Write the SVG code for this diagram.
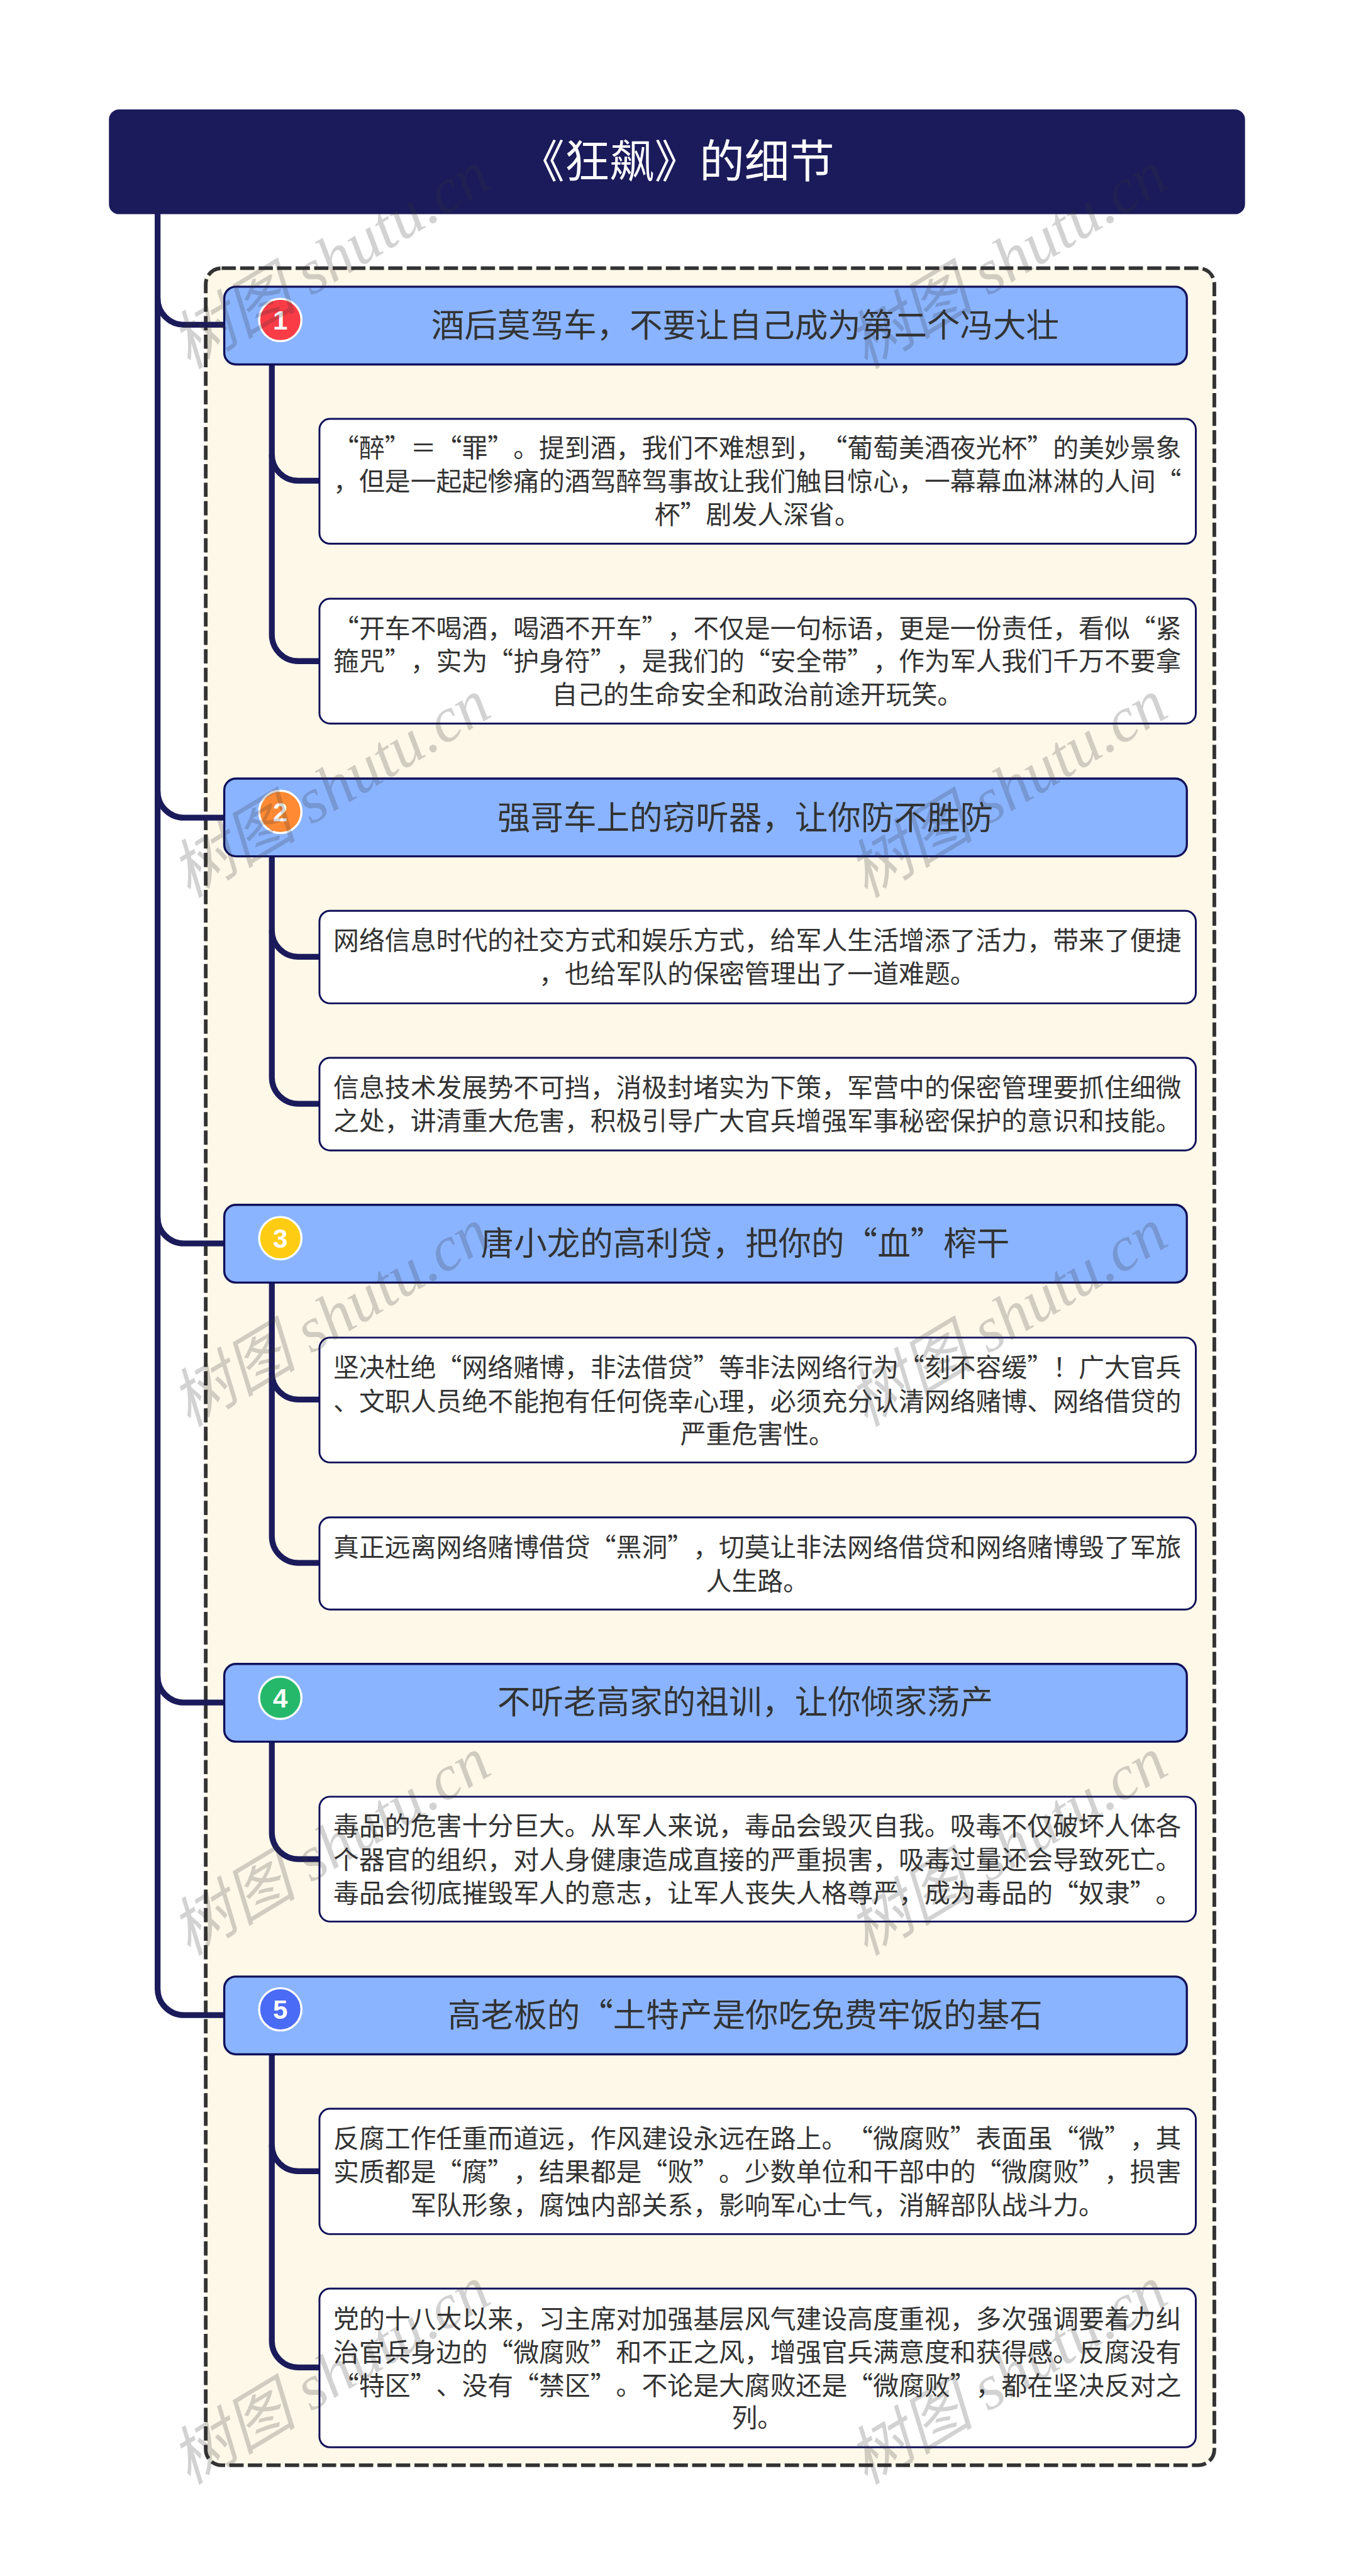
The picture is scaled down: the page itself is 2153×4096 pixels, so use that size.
<svg xmlns="http://www.w3.org/2000/svg" width="2153" height="4096" viewBox="0 0 2153 4096">
<style>
text{font-family:"Noto Sans CJK SC","Noto Sans",sans-serif;text-anchor:middle;text-spacing-trim:space-all;font-feature-settings:"chws" 0,"halt" 0,"palt" 0;font-kerning:none}
.root{fill:#1b1b5b;stroke:#1b1b5b;stroke-width:2}
.rt{font-size:85px;fill:#fff}
.br{fill:#8ab4ff;stroke:#10105a;stroke-width:4}
.bt{font-size:62.5px;fill:#333}
.ch{fill:#fff;stroke:#10105a;stroke-width:3.5}
.ct{font-size:48.6px;fill:#333}
.dot{stroke:#fff;stroke-width:4}
.num{font-family:"Liberation Sans",Arial,sans-serif;font-weight:bold;font-size:50px;fill:#fff}
.frame{fill:#fdf8e8;stroke:#333;stroke-width:7;stroke-dasharray:27 8}
.line{fill:none;stroke:#1b1b5b;stroke-width:11}
.wm{font-family:"Liberation Serif","Noto Sans CJK SC",serif;font-style:italic;font-size:120px;fill:#323232;fill-opacity:.22;text-anchor:start}
</style>
<rect width="2153" height="4096" fill="#fff"/>
<g transform="scale(0.841)">
<rect id="frame" class="frame" x="389" y="507" width="1907" height="4154" rx="30" ry="30"/>
<g id="connectors">
<path class="line" d="M298 404V3760A50 50 0 0 0 348 3810H424"/>
<path class="line" d="M298 564A50 50 0 0 0 348 614H424"/>
<path class="line" d="M298 1496A50 50 0 0 0 348 1546H424"/>
<path class="line" d="M298 2301A50 50 0 0 0 348 2351H424"/>
<path class="line" d="M298 3169A50 50 0 0 0 348 3219H424"/>
<path class="line" d="M514 688V1200A50 50 0 0 0 564 1250H605"/>
<path class="line" d="M514 859A50 50 0 0 0 564 909H605"/>
<path class="line" d="M514 1619V2037A50 50 0 0 0 564 2087H605"/>
<path class="line" d="M514 1759A50 50 0 0 0 564 1809H605"/>
<path class="line" d="M514 2425V2905A50 50 0 0 0 564 2955H605"/>
<path class="line" d="M514 2596A50 50 0 0 0 564 2646H605"/>
<path class="line" d="M514 3293V3465A50 50 0 0 0 564 3515H605"/>
<path class="line" d="M514 3884V4426A50 50 0 0 0 564 4476H605"/>
<path class="line" d="M514 4055A50 50 0 0 0 564 4105H605"/>
</g>
<g id="root"><rect class="root" x="207" y="208" width="2146" height="196" rx="18" ry="18"/><text class="rt" x="1280" y="335">《狂飙》的细节</text></g>
<g id="b1"><rect class="br" x="424" y="542" width="1820" height="147" rx="22" ry="22"/><circle class="dot" cx="530" cy="605" r="40" fill="#fa3c47"/><text class="num" x="530" y="623">1</text><text class="bt" x="1409" y="637">酒后莫驾车，不要让自己成为第二个冯大壮</text></g>
<g id="c11"><rect class="ch" x="604" y="792" width="1657" height="236" rx="20" ry="20"/><text class="ct" x="1432" y="865">“醉”＝“罪”。提到酒，我们不难想到，“葡萄美酒夜光杯”的美妙景象</text><text class="ct" x="1432" y="927">，但是一起起惨痛的酒驾醉驾事故让我们触目惊心，一幕幕血淋淋的人间“</text><text class="ct" x="1432" y="991">杯”剧发人深省。</text></g>
<g id="c12"><rect class="ch" x="604" y="1132" width="1657" height="236" rx="20" ry="20"/><text class="ct" x="1432" y="1206">“开车不喝酒，喝酒不开车”，不仅是一句标语，更是一份责任，看似“紧</text><text class="ct" x="1432" y="1267">箍咒”，实为“护身符”，是我们的“安全带”，作为军人我们千万不要拿</text><text class="ct" x="1432" y="1331">自己的生命安全和政治前途开玩笑。</text></g>
<g id="b2"><rect class="br" x="424" y="1472" width="1820" height="147" rx="22" ry="22"/><circle class="dot" cx="530" cy="1535" r="40" fill="#ff8a33"/><text class="num" x="530" y="1553">2</text><text class="bt" x="1409" y="1568">强哥车上的窃听器，让你防不胜防</text></g>
<g id="c21"><rect class="ch" x="604" y="1722" width="1657" height="175" rx="20" ry="20"/><text class="ct" x="1432" y="1796">网络信息时代的社交方式和娱乐方式，给军人生活增添了活力，带来了便捷</text><text class="ct" x="1432" y="1859">，也给军队的保密管理出了一道难题。</text></g>
<g id="c22"><rect class="ch" x="604" y="2000" width="1657" height="175" rx="20" ry="20"/><text class="ct" x="1432" y="2074">信息技术发展势不可挡，消极封堵实为下策，军营中的保密管理要抓住细微</text><text class="ct" x="1432" y="2137">之处，讲清重大危害，积极引导广大官兵增强军事秘密保护的意识和技能。</text></g>
<g id="b3"><rect class="br" x="424" y="2278" width="1820" height="147" rx="22" ry="22"/><circle class="dot" cx="530" cy="2341" r="40" fill="#ffcc14"/><text class="num" x="530" y="2359">3</text><text class="bt" x="1409" y="2373">唐小龙的高利贷，把你的“血”榨干</text></g>
<g id="c31"><rect class="ch" x="604" y="2529" width="1657" height="236" rx="20" ry="20"/><text class="ct" x="1432" y="2603">坚决杜绝“网络赌博，非法借贷”等非法网络行为“刻不容缓”！广大官兵</text><text class="ct" x="1432" y="2667">、文职人员绝不能抱有任何侥幸心理，必须充分认清网络赌博、网络借贷的</text><text class="ct" x="1432" y="2729">严重危害性。</text></g>
<g id="c32"><rect class="ch" x="604" y="2869" width="1657" height="174" rx="20" ry="20"/><text class="ct" x="1432" y="2943">真正远离网络赌博借贷“黑洞”，切莫让非法网络借贷和网络赌博毁了军旅</text><text class="ct" x="1432" y="3007">人生路。</text></g>
<g id="b4"><rect class="br" x="424" y="3146" width="1820" height="147" rx="22" ry="22"/><circle class="dot" cx="530" cy="3210" r="40" fill="#25b86b"/><text class="num" x="530" y="3228">4</text><text class="bt" x="1409" y="3240">不听老高家的祖训，让你倾家荡产</text></g>
<g id="c41"><rect class="ch" x="604" y="3397" width="1657" height="236" rx="20" ry="20"/><text class="ct" x="1432" y="3470">毒品的危害十分巨大。从军人来说，毒品会毁灭自我。吸毒不仅破坏人体各</text><text class="ct" x="1432" y="3534">个器官的组织，对人身健康造成直接的严重损害，吸毒过量还会导致死亡。</text><text class="ct" x="1432" y="3597">毒品会彻底摧毁军人的意志，让军人丧失人格尊严，成为毒品的“奴隶”。</text></g>
<g id="b5"><rect class="br" x="424" y="3737" width="1820" height="147" rx="22" ry="22"/><circle class="dot" cx="530" cy="3799" r="40" fill="#4a6bf5"/><text class="num" x="530" y="3817">5</text><text class="bt" x="1409" y="3832">高老板的“土特产是你吃免费牢饭的基石</text></g>
<g id="c51"><rect class="ch" x="604" y="3987" width="1657" height="237" rx="20" ry="20"/><text class="ct" x="1432" y="4061">反腐工作任重而道远，作风建设永远在路上。“微腐败”表面虽“微”，其</text><text class="ct" x="1432" y="4124">实质都是“腐”，结果都是“败”。少数单位和干部中的“微腐败”，损害</text><text class="ct" x="1432" y="4187">军队形象，腐蚀内部关系，影响军心士气，消解部队战斗力。</text></g>
<g id="c52"><rect class="ch" x="604" y="4327" width="1657" height="300" rx="20" ry="20"/><text class="ct" x="1432" y="4402">党的十八大以来，习主席对加强基层风气建设高度重视，多次强调要着力纠</text><text class="ct" x="1432" y="4465">治官兵身边的“微腐败”和不正之风，增强官兵满意度和获得感。反腐没有</text><text class="ct" x="1432" y="4528">“特区”、没有“禁区”。不论是大腐败还是“微腐败”，都在坚决反对之</text><text class="ct" x="1432" y="4589">列。</text></g>
<g id="watermarks">
<text class="wm" transform="translate(357 699) rotate(-31)">树图 shutu.cn</text>
<text class="wm" transform="translate(1637 699) rotate(-31)">树图 shutu.cn</text>
<text class="wm" transform="translate(357 1699) rotate(-31)">树图 shutu.cn</text>
<text class="wm" transform="translate(1637 1699) rotate(-31)">树图 shutu.cn</text>
<text class="wm" transform="translate(357 2699) rotate(-31)">树图 shutu.cn</text>
<text class="wm" transform="translate(1637 2699) rotate(-31)">树图 shutu.cn</text>
<text class="wm" transform="translate(357 3699) rotate(-31)">树图 shutu.cn</text>
<text class="wm" transform="translate(1637 3699) rotate(-31)">树图 shutu.cn</text>
<text class="wm" transform="translate(357 4699) rotate(-31)">树图 shutu.cn</text>
<text class="wm" transform="translate(1637 4699) rotate(-31)">树图 shutu.cn</text>
</g>
</g>
</svg>
